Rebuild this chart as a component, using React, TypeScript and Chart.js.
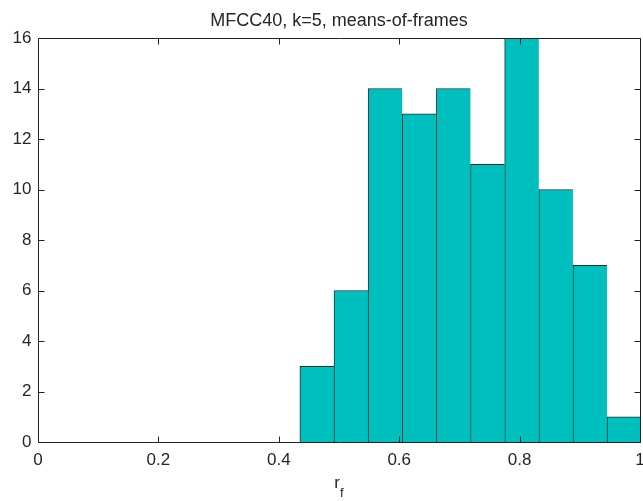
import React, { useEffect, useRef } from "react";
import { Chart, registerables } from "chart.js";

Chart.register(...registerables);

const titleText = "MFCC40, k=5, means-of-frames";
const binEdges = [0.435, 0.4917, 0.5484, 0.6051, 0.6618, 0.7185, 0.7752, 0.8319, 0.8886, 0.9453, 1.002];
const counts = [3, 6, 14, 13, 14, 11, 16, 10, 7, 1];
const xTicks = [0, 0.2, 0.4, 0.6, 0.8, 1];
const yTicks = [0, 2, 4, 6, 8, 10, 12, 14, 16];
const xLabelMain = "r";
const xLabelSub = "f";

const FONT = "'Liberation Sans', Arial, Helvetica, sans-serif";
const TEXT = "#262626";

const axesPlugin = {
  id: "matlabAxes",
  afterDatasetsDraw(chart: any) {
    const { ctx, chartArea } = chart;
    const xs = chart.scales.x;
    const ys = chart.scales.y;
    const l = Math.round(chartArea.left) + 0.5;
    const r = Math.round(chartArea.right) + 0.5;
    const t = Math.round(chartArea.top) + 0.5;
    const b = Math.round(chartArea.bottom) + 0.5;
    ctx.save();
    ctx.strokeStyle = "#222";
    ctx.lineWidth = 1;
    ctx.beginPath();
    ctx.rect(l, t, r - l, b - t);
    ctx.stroke();
    const tl = 6;
    ctx.beginPath();
    for (const v of xTicks) {
      const px = Math.round(xs.getPixelForValue(v)) + 0.5;
      ctx.moveTo(px, b);
      ctx.lineTo(px, b - tl);
      ctx.moveTo(px, t);
      ctx.lineTo(px, t + tl);
    }
    for (const v of yTicks) {
      const py = Math.round(ys.getPixelForValue(v)) + 0.5;
      ctx.moveTo(l, py);
      ctx.lineTo(l + tl, py);
      ctx.moveTo(r, py);
      ctx.lineTo(r - tl, py);
    }
    ctx.stroke();

    ctx.fillStyle = TEXT;
    ctx.font = `17px ${FONT}`;
    ctx.textAlign = "center";
    ctx.textBaseline = "alphabetic";
    for (const v of xTicks) {
      const px = xs.getPixelForValue(v);
      ctx.fillText(String(v), px, b + 22);
    }
    ctx.textAlign = "right";
    ctx.textBaseline = "middle";
    for (const v of yTicks) {
      const py = ys.getPixelForValue(v);
      ctx.fillText(String(v), l - 7, py);
    }

    ctx.font = `18px ${FONT}`;
    ctx.textAlign = "center";
    ctx.textBaseline = "alphabetic";
    ctx.fillText(titleText, (chartArea.left + chartArea.right) / 2, 26);

    const cx = (chartArea.left + chartArea.right) / 2;
    ctx.font = `17px ${FONT}`;
    ctx.textAlign = "left";
    const rw = ctx.measureText(xLabelMain).width;
    ctx.font = `13px ${FONT}`;
    const fw = ctx.measureText(xLabelSub).width;
    const start = cx - (rw + fw) / 2;
    ctx.font = `17px ${FONT}`;
    ctx.fillText(xLabelMain, start, 488);
    ctx.font = `13px ${FONT}`;
    ctx.fillText(xLabelSub, start + rw, 497);
    ctx.restore();
  },
};

export default function App() {
  const ref = useRef<HTMLCanvasElement>(null);
  useEffect(() => {
    const centers = counts.map((_, i) => (binEdges[i] + binEdges[i + 1]) / 2);
    const chart = new Chart(ref.current as HTMLCanvasElement, {
      type: "bar",
      data: {
        datasets: [
          {
            data: centers.map((c, i) => ({ x: c, y: counts[i] })),
            backgroundColor: "rgb(0,191,191)",
            borderColor: "#1a3535",
            borderWidth: { top: 1, left: 1, right: 0, bottom: 0 } as any,
            borderSkipped: false as any,
            barPercentage: 1,
            categoryPercentage: 1,
          },
        ],
      },
      options: {
        animation: false,
        responsive: false,
        devicePixelRatio: 1,
        layout: { padding: { top: 38, right: 3, left: 0, bottom: 0 } },
        plugins: { legend: { display: false }, tooltip: { enabled: false }, title: { display: false } },
        scales: {
          x: {
            type: "linear",
            min: 0,
            max: 1,
            offset: false,
            ticks: { display: false, stepSize: 0.2 },
            grid: { display: false },
            border: { display: false },
            afterFit: (s: any) => {
              s.height = 59;
              s.paddingLeft = 0;
              s.paddingRight = 0;
            },
          },
          y: {
            min: 0,
            max: 16,
            ticks: { display: false, stepSize: 2 },
            grid: { display: false },
            border: { display: false },
            afterFit: (s: any) => {
              s.width = 38;
            },
          },
        },
      },
      plugins: [axesPlugin],
    });
    return () => chart.destroy();
  }, []);
  return (
    <div style={{ position: "absolute", left: 0, top: 0, width: 643, height: 501, background: "#fff" }}>
      <canvas ref={ref} width={643} height={501} />
    </div>
  );
}
